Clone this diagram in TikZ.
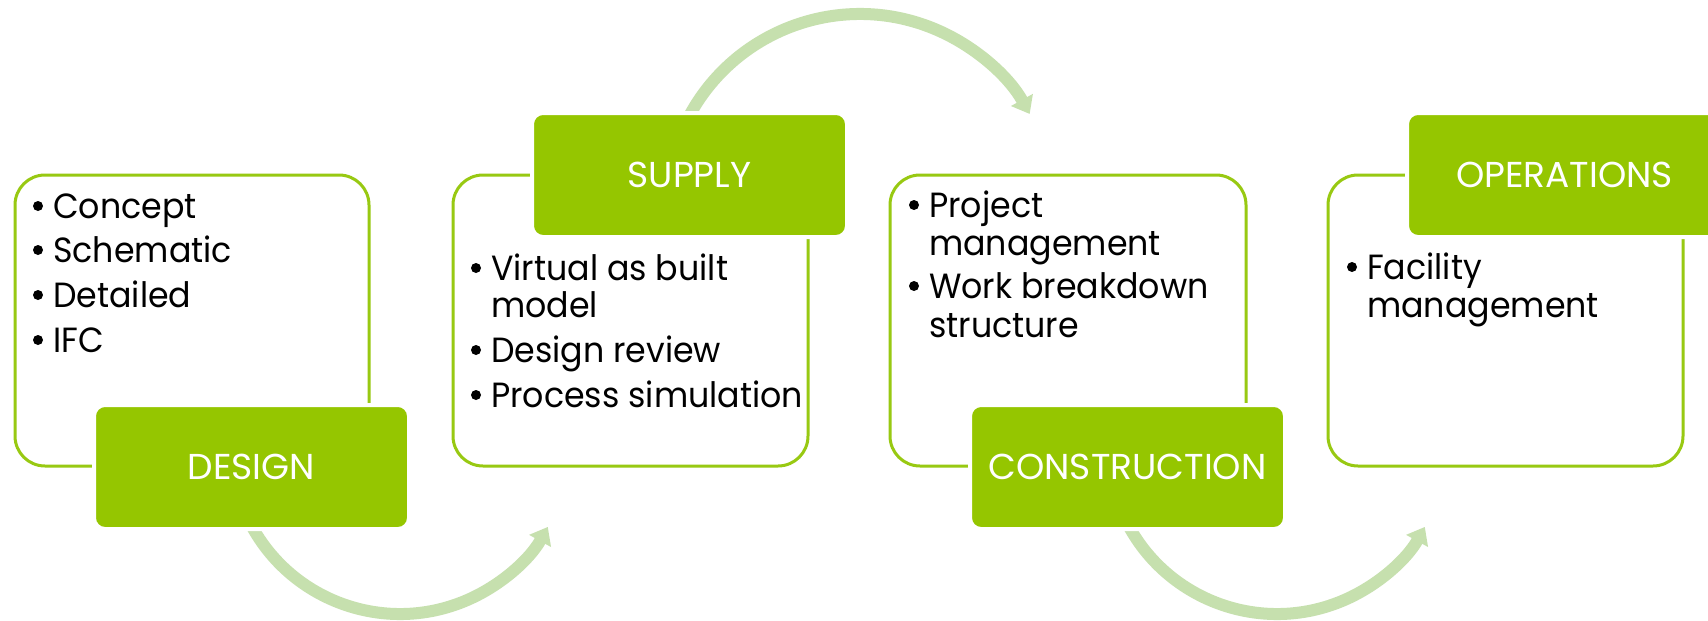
\documentclass[tikz,border=0pt]{standalone}
\usepackage{fontspec}
\setmainfont{Poppins}[FakeStretch=0.95]
\newfontfamily\headfont{Poppins}
\usetikzlibrary{arrows.meta}
\definecolor{fillg}{HTML}{95C600}
\definecolor{lineg}{HTML}{98C912}
\definecolor{arrowg}{HTML}{C6E0AE}
\tikzset{
  outlinebox/.style={draw=lineg, line width=3pt, rounded corners=30pt},
  headbox/.style={fill=fillg, draw=white, line width=4pt, rounded corners=11pt,
    minimum width=315pt, minimum height=124pt, inner sep=0pt,
    text=white, font=\headfont\fontsize{36}{40}\selectfont},
  itemtxt/.style={anchor=base west, inner sep=0pt, text=black,
    font=\fontsize{35}{38}\selectfont},
  flowarrow/.style={draw=arrowg, line width=12pt,
    -{Triangle[width=24pt,length=16pt]}}
}
\begin{document}
\begin{tikzpicture}[x=1pt,y=-1pt]
\clip (0,0) rectangle (1708,621);
\fill[white] (0,0) rectangle (1708,621);
% arc centres
\coordinate (ca) at (400,445);
\coordinate (cb) at (860,208);
\coordinate (cc) at (1277,445);
% flow arrows
\draw[flowarrow] (ca) ++(155:169) arc[start angle=155, end angle=29, radius=169];
\draw[flowarrow] (cb) ++(205:194) arc[start angle=205, end angle=331, radius=194];
\draw[flowarrow] (cc) ++(155:169) arc[start angle=155, end angle=29, radius=169];
% outline boxes
\draw[outlinebox] (15,175) rectangle (369,466);
\draw[outlinebox] (453,175) rectangle (808,466);
\draw[outlinebox] (890,175) rectangle (1246,466);
\draw[outlinebox] (1328,175) rectangle (1683,466);
% heading boxes
\node[headbox] (design) at (251.5,467) {DESIGN};
\node[headbox] (supply) at (689.5,175) {SUPPLY};
\node[headbox] (construction) at (1127.5,467) {CONSTRUCTION};
\node[headbox] (operations) at (1564.5,175) {OPERATIONS};
% items
\node[itemtxt] (d1) at (53,218) {Concept};
\node[itemtxt] (d2) at (53,262) {Schematic};
\node[itemtxt] (d3) at (53,307) {Detailed};
\node[itemtxt] (d4) at (53,352) {IFC};
\node[itemtxt] (s1) at (491,280) {Virtual as built};
\node[itemtxt] (s1b) at (491,317) {model};
\node[itemtxt] (s2) at (491,362) {Design review};
\node[itemtxt] (s3) at (491,407) {Process simulation};
\node[itemtxt] (c1) at (929,217) {Project};
\node[itemtxt] (c1b) at (929,255) {management};
\node[itemtxt] (c2) at (929,298) {Work breakdown};
\node[itemtxt] (c2b) at (929,337) {structure};
\node[itemtxt] (o1) at (1367,279) {Facility};
\node[itemtxt] (o1b) at (1367,317) {management};
% bullets
\foreach \n in {d1,d2,d3,d4,s1,s2,s3,c1,c2,o1}
  \fill[black] (\n.base west) ++(-15,-12) circle[radius=5];
\end{tikzpicture}
\end{document}
